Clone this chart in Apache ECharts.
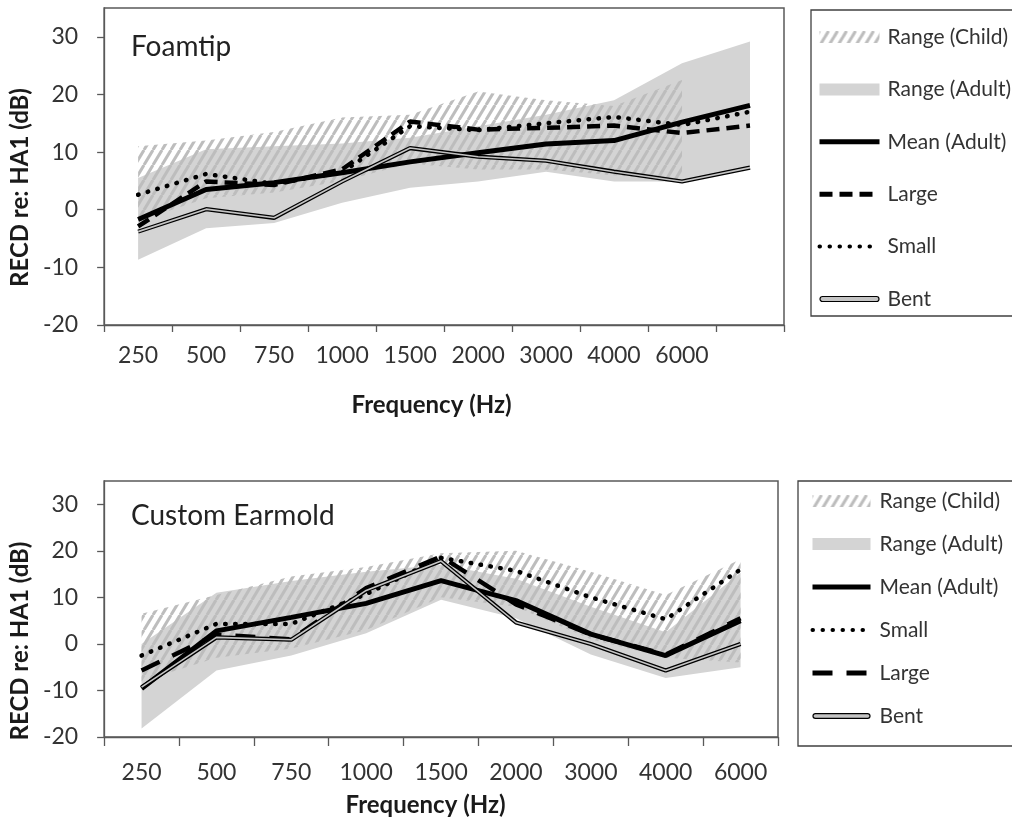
<!DOCTYPE html>
<html><head><meta charset="utf-8">
<script src="https://cdn.jsdelivr.net/npm/echarts@6/dist/echarts.min.js"></script>
<style>html,body{margin:0;padding:0;background:#fff}#c{width:1012px;height:820px}</style>
</head><body><div id="c"></div>
<script>
// ---------- data ----------
const foamFreq = ['250','500','750','1000','1500','2000','3000','4000','6000','8000'];
const foamTickLabels = ['250','500','750','1000','1500','2000','3000','4000','6000',''];
const moldFreq = ['250','500','750','1000','1500','2000','3000','4000','6000'];
const yTicks = [-20,-10,0,10,20,30];

const foamChildMin = [-2, 2, 3, 5, 8, 7, 7, 6, 5, null];
const foamChildMax = [11, 12, 13.5, 16, 16.5, 20.5, 19, 18, 22.5, null];
const foamAdultMin = [-8.7, -3.2, -2.3, 1.2, 3.8, 4.9, 6.6, 4.9, 4.9, 7.4];
const foamAdultMax = [5.5, 10.5, 11, 11.5, 12.5, 14.5, 16.5, 19, 25.4, 29.2];
const foamMean  = [-1.7, 3.5, 4.7, 6.4, 8.3, 9.9, 11.4, 12.0, 15.2, 18.1];
const foamLarge = [-2.9, 4.9, 4.3, 7, 15.3, 13.9, 14.2, 14.6, 13.3, 14.6];
const foamSmall = [2.6, 6.2, 4.5, 6.5, 14.5, 13.8, 15.0, 16.1, 14.7, 17.0];
const foamBent  = [-3.8, 0.1, -1.4, 4.9, 10.7, 9.2, 8.5, 6.6, 4.9, 7.3];

const moldChildMin = [-8, -3, -1, 3, 10, 8, 1, -3, -4];
const moldChildMax = [6.5, 10.5, 14.5, 16.5, 19.5, 20, 15.5, 10.5, 18.2];
const moldAdultMin = [-18.2, -5.7, -2.5, 2.3, 9.5, 5.5, -2.3, -7.3, -5];
const moldAdultMax = [0, 11, 13.5, 15.5, 17, 14, 8, 2.5, 15.3];
const moldMean  = [-9.6, 2.8, 5.7, 8.7, 13.6, 9.3, 2.1, -2.5, 5.0];
const moldSmall = [-2.5, 4.3, 4.3, 10.7, 18.5, 15.7, 10, 5.3, 16];
const moldLarge = [-5.7, 2.0, 1.0, 12, 18.8, 8.5, 2.0, -2.3, 5.5];
const moldBent  = [-9.3, 1.4, 0.9, 11.5, 17.8, 4.6, 0, -5.7, 0];

// ---------- styles ----------
const FONT = 'Lato';
const AXIS_COLOR = '#595959';
const TEXT_COLOR = '#333';
const ADULT_GRAY = '#d4d4d4';
const BENT_CORE = '#c4c4c4';
const DASH_TOP = [13, 7];
const DASH_BOTTOM = [20, 14];
const DOTS = [0.5, 9.5];

function makeHatch() {
  const w = 9, h = 15;
  const c = document.createElement('canvas');
  c.width = w; c.height = h;
  const g = c.getContext('2d');
  g.strokeStyle = '#bdbdbd';
  g.lineWidth = 3;
  for (let k = -1; k <= 1; k++) {
    g.beginPath(); g.moveTo(k * w, h); g.lineTo(k * w + w, 0); g.stroke();
  }
  return c;
}
const hatch = { image: makeHatch(), repeat: 'repeat' };

function diff(a, b) { return a.map((v, i) => (v == null || b[i] == null) ? null : +(v - b[i]).toFixed(2)); }

function buildSeries(gi, d, dash) {
  const common = { type: 'line', xAxisIndex: gi, yAxisIndex: gi, symbol: 'none', showSymbol: false, silent: true, animation: false, smooth: false };
  return [
    Object.assign({}, common, { name: 'adultBase' + gi, stack: 'adult' + gi, stackStrategy: 'all', data: d.adultMin, lineStyle: { width: 0, opacity: 0 } }),
    Object.assign({}, common, { name: 'Range (Adult)', stack: 'adult' + gi, stackStrategy: 'all', data: diff(d.adultMax, d.adultMin), lineStyle: { width: 0, opacity: 0 }, areaStyle: { color: ADULT_GRAY, opacity: 1 } }),
    Object.assign({}, common, { name: 'childBase' + gi, stack: 'child' + gi, stackStrategy: 'all', data: d.childMin, lineStyle: { width: 0, opacity: 0 } }),
    Object.assign({}, common, { name: 'Range (Child)', stack: 'child' + gi, stackStrategy: 'all', data: diff(d.childMax, d.childMin), lineStyle: { width: 0, opacity: 0 }, areaStyle: { color: hatch, opacity: 1 } }),
    Object.assign({}, common, { name: 'Mean (Adult)', data: d.mean, lineStyle: { color: '#000', width: 5 } }),
    Object.assign({}, common, { name: 'Large', data: d.large, lineStyle: { color: '#000', width: 4.5, type: dash } }),
    Object.assign({}, common, { name: 'Small', data: d.small, lineStyle: { color: '#000', width: 4.5, type: DOTS, cap: 'round' } }),
    Object.assign({}, common, { name: 'Bent', data: d.bent, lineStyle: { color: '#000', width: 4.2 } }),
    Object.assign({}, common, { name: 'Bent', data: d.bent, lineStyle: { color: BENT_CORE, width: 1.6 } })
  ];
}

const BENT_ICON = 'path://M0,0 M60,12 M3,3.5 H57 A2.5,2.5 0 0 1 57,8.5 H3 A2.5,2.5 0 0 1 3,3.5 Z';
function legendItem(name, dash) {
  switch (name) {
    case 'Range (Child)': return { name, icon: 'rect', itemStyle: { color: hatch, opacity: 1, borderWidth: 0 } };
    case 'Range (Adult)': return { name, icon: 'rect', itemStyle: { color: ADULT_GRAY, opacity: 1, borderWidth: 0 } };
    case 'Mean (Adult)': return { name, itemStyle: { opacity: 0 }, lineStyle: { color: '#000', width: 5, type: 'solid', opacity: 1 } };
    case 'Large': return { name, itemStyle: { opacity: 0 }, lineStyle: { color: '#000', width: 5, type: dash, opacity: 1 } };
    case 'Small': return { name, itemStyle: { opacity: 0 }, lineStyle: { color: '#000', width: 4, type: DOTS, cap: 'round', opacity: 1 } };
    case 'Bent': return { name, icon: BENT_ICON, itemStyle: { color: BENT_CORE, borderColor: '#000', borderWidth: 1.2, opacity: 1 } };
  }
}
const topLegendOrder = ['Range (Child)', 'Range (Adult)', 'Mean (Adult)', 'Large', 'Small', 'Bent'];
const bottomLegendOrder = ['Range (Child)', 'Range (Adult)', 'Mean (Adult)', 'Small', 'Large', 'Bent'];

function yAxisCfg(gi, namePad) {
  return {
    type: 'value', gridIndex: gi, min: -20, max: 35, interval: 10,
    axisLine: { show: true, onZero: false, lineStyle: { color: AXIS_COLOR, width: 1.3 } },
    axisTick: { show: true, length: 7, customValues: yTicks, lineStyle: { color: AXIS_COLOR, width: 1.3 } },
    axisLabel: { customValues: yTicks, margin: 26, fontFamily: FONT, fontSize: 23, color: TEXT_COLOR },
    splitLine: { show: false },
    name: 'RECD re: HA1 (dB)', nameLocation: 'middle', nameRotate: 90, nameGap: 55,
    nameTextStyle: { fontFamily: FONT, fontWeight: 'bold', fontSize: 24, color: '#1a1a1a', padding: [0, namePad, 0, 0] }
  };
}
function xAxisCfg(gi, cats, labels, margin, tickLen, nameGap, namePad) {
  return {
    type: 'category', gridIndex: gi, data: cats, boundaryGap: true,
    axisLine: { show: true, onZero: false, lineStyle: { color: AXIS_COLOR, width: 1.3 } },
    axisTick: { show: true, length: tickLen, interval: 0, lineStyle: { color: AXIS_COLOR, width: 1.3 } },
    axisLabel: { interval: 0, margin: margin, fontFamily: FONT, fontSize: 23, color: TEXT_COLOR, formatter: (v, i) => labels[i] },
    splitLine: { show: false },
    name: 'Frequency (Hz)', nameLocation: 'middle', nameGap: nameGap,
    nameTextStyle: { fontFamily: FONT, fontWeight: 'bold', fontSize: 24, color: '#1a1a1a', padding: [0, namePad, 0, 0] }
  };
}

const legendText = { fontFamily: FONT, fontSize: 21, color: TEXT_COLOR, lineHeight: 24 };

const option = {
  backgroundColor: '#fff',
  animation: false,
  title: [
    { text: 'Foamtip', left: 131, top: 33, padding: 0, textStyle: { fontFamily: FONT, fontSize: 28, fontWeight: 'normal', color: '#222' } },
    { text: 'Custom Earmold', left: 131, top: 502, padding: 0, textStyle: { fontFamily: FONT, fontSize: 28, fontWeight: 'normal', color: '#222' } }
  ],
  grid: [
    { left: 93, top: 8, width: 691, height: 317, show: true, borderColor: AXIS_COLOR, borderWidth: 1.5, backgroundColor: 'transparent', containLabel: false },
    { left: 93, top: 481, width: 685, height: 256, show: true, borderColor: AXIS_COLOR, borderWidth: 1.5, backgroundColor: 'transparent', containLabel: false }
  ],
  xAxis: [
    xAxisCfg(0, foamFreq, foamTickLabels, 19, 7, 68, 25),
    xAxisCfg(1, moldFreq, moldFreq, 24, 9, 56, 31)
  ],
  yAxis: [yAxisCfg(0, 42), yAxisCfg(1, 64)],
  legend: [
    { orient: 'vertical', left: 811, top: 10, padding: [15, 60, 5, 6], itemGap: 28.4, itemWidth: 60, itemHeight: 12,
      borderColor: '#404040', borderWidth: 1.3, selectedMode: false, textStyle: Object.assign({}, legendText, { padding: [0, 0, 0, 3] }),
      data: topLegendOrder.map(n => legendItem(n, DASH_TOP)) },
    { orient: 'vertical', left: 798, top: 481, padding: [8, 40, 18, 12], itemGap: 19, itemWidth: 58, itemHeight: 12,
      borderColor: '#404040', borderWidth: 1.3, selectedMode: false, textStyle: Object.assign({}, legendText, { padding: [0, 0, 0, 4] }),
      data: bottomLegendOrder.map(n => legendItem(n, DASH_BOTTOM)) }
  ],
  series: [].concat(
    buildSeries(0, { adultMin: foamAdultMin, adultMax: foamAdultMax, childMin: foamChildMin, childMax: foamChildMax, mean: foamMean, large: foamLarge, small: foamSmall, bent: foamBent }, DASH_TOP),
    buildSeries(1, { adultMin: moldAdultMin, adultMax: moldAdultMax, childMin: moldChildMin, childMax: moldChildMax, mean: moldMean, large: moldLarge, small: moldSmall, bent: moldBent }, DASH_BOTTOM)
  )
};

const chart = echarts.init(document.getElementById('c'), null, { renderer: 'canvas' });
chart.setOption(option);
</script>
</body></html>
